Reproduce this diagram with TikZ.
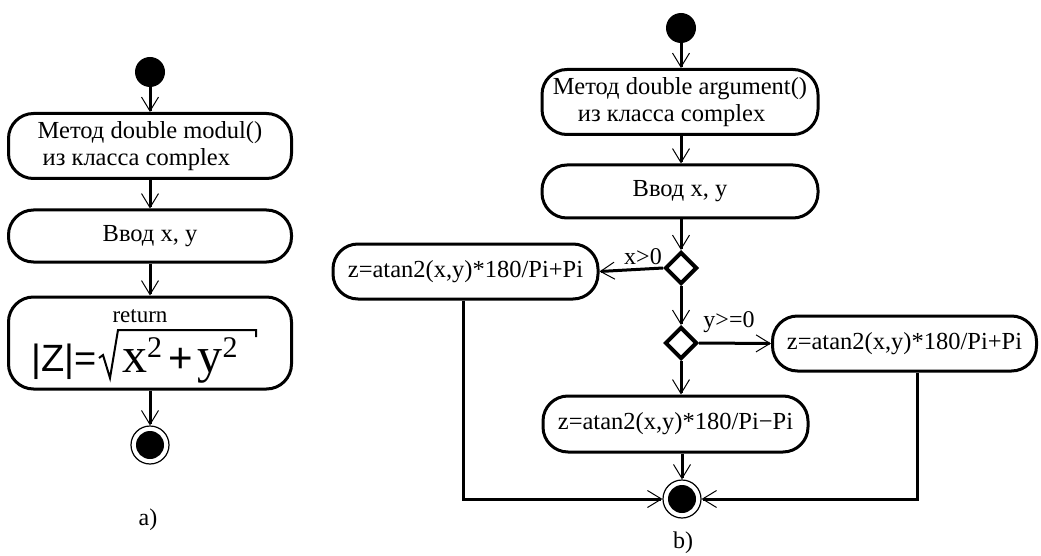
\documentclass[tikz,border=0pt]{standalone}
\usepackage{fontspec}
\setmainfont{Liberation Serif}
\newfontfamily\lsans{Liberation Sans}
\usetikzlibrary{arrows.meta,shapes.geometric}
\begin{document}
\begin{tikzpicture}[x=1pt,y=-1pt,
 actbox/.style={draw, line width=3pt, rounded corners=25pt, inner sep=0pt, font=\fontsize{24.5}{27}\selectfont},
 flow/.style={line width=3pt, -{Straight Barb[length=14pt,width=17pt,line width=1pt]}},
 startdot/.style={circle, fill=black, minimum size=30pt, inner sep=0pt},
 enddot/.style={circle, draw, line width=1.2pt, minimum size=38pt, inner sep=0pt},
 decision/.style={diamond, draw, line width=4pt, minimum width=32pt, minimum height=32pt, inner sep=0pt, fill=white},
 lbl/.style={font=\fontsize{24}{24}\selectfont, inner sep=0pt},
 frm/.style={inner sep=0pt, anchor=base west}]
\useasboundingbox (0,0) rectangle (1041,556);
% ---- a) ----
\node[startdot] (s1) at (150,72) {};
\node[actbox, minimum width=283pt, minimum height=65pt, align=left] (a1) at (150,146) {Метод double modul()\\\hspace*{5pt}из класса complex};
\node[actbox, minimum width=283pt, minimum height=52pt] (a2) at (150,236) {Ввод x, y};
\node[actbox, minimum width=283pt, minimum height=92pt] (a3) at (150,343) {};
\node[inner sep=0pt, font=\fontsize{23}{23}\selectfont] (a3r) at (140,316) {return};
\node[frm] (a3z) at (31,371) {\lsans\fontsize{38}{38}\selectfont |Z|=};
\node[frm] (a3x) at (122,372) {\fontsize{50}{50}\selectfont x\raisebox{15pt}{\fontsize{30}{30}\selectfont 2}\hspace{6pt}{\lsans\fontsize{42}{42}\selectfont +}\hspace{5pt}y\raisebox{15pt}{\fontsize{30}{30}\selectfont 2}};
\draw[line width=2pt, line join=miter] (99,358) -- (103,355) -- (110,378) -- (118,330) -- (256,330) -- (256,337);
\node[enddot] (e1) at (150,445) {};
\fill (e1.center) circle (14pt);
\draw[flow] (s1) -- (a1.north);
\draw[flow] (a1.south) -- (a2.north);
\draw[flow] (a2.south) -- (a3.north);
\draw[flow] (a3.south) -- (e1.north);
\node[lbl] (la) at (148,520) {a)};
% ---- b) ----
\node[startdot] (s2) at (681,28) {};
\node[actbox, minimum width=276pt, minimum height=65pt, align=left] (b1) at (680,102) {Метод double argument()\\\hspace*{25pt}из класса complex};
\node[actbox, minimum width=276pt, minimum height=53pt] (b2) at (680,191.5) {Ввод x, y};
\node[decision] (d1) at (681,268) {};
\node[decision] (d2) at (681,343) {};
\node[actbox, minimum width=265pt, minimum height=55pt] (bl) at (465.5,271.5) {z=atan2(x,y)*180/Pi+Pi};
\node[actbox, minimum width=264pt, minimum height=55pt] (br) at (904.5,343.5) {z=atan2(x,y)*180/Pi+Pi};
\node[actbox, minimum width=265pt, minimum height=56pt] (bb) at (675.5,424) {z=atan2(x,y)*180/Pi−Pi};
\node[enddot] (e2) at (682,499) {};
\fill (e2.center) circle (14pt);
\node[lbl] (lx) at (643,257) {x>0};
\node[lbl] (ly) at (729,322) {y>=0};
\draw[flow] (s2) -- (s2 |- b1.north);
\draw[flow] (b1.south -| s2) -- (b2.north -| s2);
\draw[flow] (b2.south -| d1) -- (d1.north);
\draw[flow] (d1.west) -- (bl.east);
\draw[flow] (d1.south) -- (d2.north);
\draw[flow] (d2.east) -- (br.west);
\draw[flow] (d2.south) -- (d2.south |- bb.north);
\draw[flow] (bb.south -| e2.north) -- (e2.north);
\draw[flow] ([xshift=-2.5pt]bl.south) |- (e2.west);
\draw[flow] ([xshift=12.5pt]br.south) |- (e2.east);
\node[lbl] (lb) at (683,543) {b)};
\end{tikzpicture}
\end{document}
